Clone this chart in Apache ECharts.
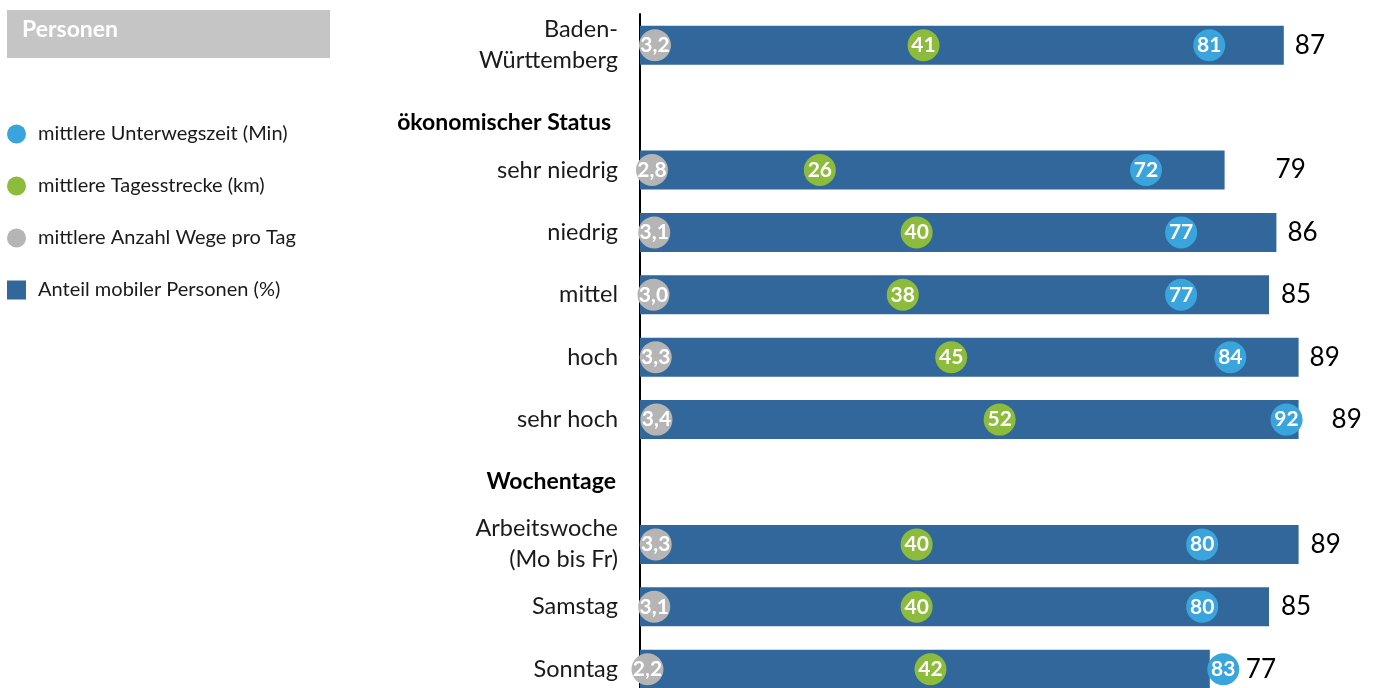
<!DOCTYPE html>
<html>
<head>
<meta charset="utf-8">
<script src="https://cdn.jsdelivr.net/npm/echarts@6/dist/echarts.min.js"></script>
<style>
html,body{margin:0;padding:0;background:#fff;}
#chart{width:1373px;height:688px;}
</style>
</head>
<body>
<div id="chart"></div>
<script>
// ---- data ----
const categories = ['Baden-\nWürttemberg', 'ökonomischer Status', 'sehr niedrig', 'niedrig', 'mittel', 'hoch', 'sehr hoch', 'Wochentage', 'Arbeitswoche\n(Mo bis Fr)', 'Samstag', 'Sonntag'];
const headerCategories = ['ökonomischer Status', 'Wochentage'];
const shareMobile = [87, null, 79, 86, 85, 89, 89, null, 89, 85, 77];      // Anteil mobiler Personen (%)
const travelTime = [81, null, 72, 77, 77, 84, 92, null, 80, 80, 83];       // mittlere Unterwegszeit (Min)
const dailyDistance = [41, null, 26, 40, 38, 45, 52, null, 40, 40, 42];    // mittlere Tagesstrecke (km)
const tripsPerDay = [3.2, null, 2.8, 3.1, 3.0, 3.3, 3.4, null, 3.3, 3.1, 2.2]; // mittlere Anzahl Wege pro Tag

// ---- styles ----
const FONT = 'Lato';
const barLabelDistance = [11, 0, 51, 11, 12, 11, 33, 0, 12, 12, 36];
const colBar = '#32679b', colBlue = '#3aa5dc', colGreen = '#8dbb3c', colGrey = '#b5b5b5';

const fmtComma = v => v.toFixed(1).replace('.', ',');

function pairs(arr) {
  return arr.map((v, i) => v == null ? null : [v, categories[i]]).filter(d => d);
}

const chart = echarts.init(document.getElementById('chart'));

const dotLabel = (fmt) => ({
  show: true, position: 'inside', color: '#fff', fontFamily: FONT, fontWeight: 'bold', fontSize: 21,
  formatter: p => fmt(p.value[0])
});

chart.setOption({
  animation: false,
  graphic: [
    { type: 'rect', shape: { x: 7, y: 10, width: 323, height: 48 }, style: { fill: '#c4c5c4' } },
    { type: 'text', x: 22, y: 30, style: { text: 'Personen', fill: '#fff', font: 'bold 23px Lato', verticalAlign: 'middle' } }
  ],
  legend: {
    orient: 'vertical', left: 7, top: 124, padding: 0, itemWidth: 19, itemHeight: 19, itemGap: 32,
    selectedMode: false,
    textStyle: { fontFamily: FONT, fontSize: 20, color: '#1a1a1a', padding: [0, 0, 0, 7] },
    data: [
      { name: 'mittlere Unterwegszeit (Min)', icon: 'circle' },
      { name: 'mittlere Tagesstrecke (km)', icon: 'circle' },
      { name: 'mittlere Anzahl Wege pro Tag', icon: 'circle' },
      { name: 'Anteil mobiler Personen (%)', icon: 'rect' }
    ]
  },
  grid: { left: 640, top: 14, width: 740, height: 686.4, containLabel: false, outerBoundsMode: 'none' },
  xAxis: [
    { type: 'value', min: 0, max: 100, show: false },
    { type: 'value', min: 0, max: 105.3, show: false },
    { type: 'value', min: 0, max: 107, show: false },
    { type: 'value', min: 1.2, max: 100, show: false }
  ],
  yAxis: {
    type: 'category', inverse: true, data: categories,
    axisLine: { show: true, lineStyle: { color: '#000', width: 2 } },
    axisTick: { show: false },
    splitLine: { show: false },
    axisLabel: {
      margin: 22, fontFamily: FONT, fontSize: 23.5, color: '#1a1a1a', lineHeight: 31,
      formatter: v => v === headerCategories[0] ? '{h1|' + v + '}' : (headerCategories.includes(v) ? '{h|' + v + '}' : v),
      rich: {
        h: { fontFamily: FONT, fontSize: 23, fontWeight: 'bold', color: '#000', padding: [0, 2, 0, 0] },
        h1: { fontFamily: FONT, fontSize: 23, fontWeight: 'bold', color: '#000', padding: [30, 7, 0, 0] }
      }
    }
  },
  series: [
    {
      name: 'Anteil mobiler Personen (%)', type: 'bar', xAxisIndex: 0, barWidth: 39,
      itemStyle: { color: colBar },
      data: shareMobile.map((v, i) => v == null ? '-' : {
        value: v,
        label: { show: true, position: 'right', distance: barLabelDistance[i] }
      }),
      label: { show: true, color: '#000', fontFamily: FONT, fontSize: 26 },
      z: 1
    },
    {
      name: 'mittlere Anzahl Wege pro Tag', type: 'scatter', xAxisIndex: 3, symbolSize: 32,
      itemStyle: { color: colGrey, opacity: 1 },
      label: dotLabel(fmtComma),
      data: pairs(tripsPerDay), z: 3
    },
    {
      name: 'mittlere Tagesstrecke (km)', type: 'scatter', xAxisIndex: 2, symbolSize: 32,
      itemStyle: { color: colGreen, opacity: 1 },
      label: dotLabel(v => String(v)),
      data: pairs(dailyDistance), z: 4
    },
    {
      name: 'mittlere Unterwegszeit (Min)', type: 'scatter', xAxisIndex: 1, symbolSize: 32,
      itemStyle: { color: colBlue, opacity: 1 },
      label: dotLabel(v => String(v)),
      data: pairs(travelTime), z: 5
    }
  ]
});
</script>
</body>
</html>
